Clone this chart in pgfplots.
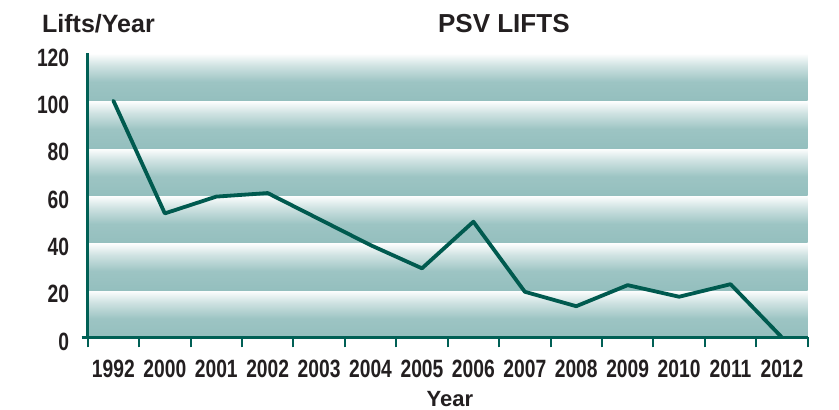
\documentclass[border=0pt]{standalone}
\usepackage{fontspec}
\setmainfont{Liberation Sans}
\newfontfamily\condfont{Liberation Sans}[FakeStretch=0.77]
\usepackage{pgfplots}
\pgfplotsset{compat=1.18}
\definecolor{linec}{HTML}{005A4F}
\definecolor{axc}{HTML}{006055}
\definecolor{bandc}{HTML}{94BFBE}
\definecolor{txt}{HTML}{231F20}
\pgfdeclareverticalshading{band}{100bp}{color(0bp)=(bandc); color(25bp)=(bandc); color(45bp)=(bandc!92!white); color(62bp)=(bandc!45!white); color(75bp)=(white); color(100bp)=(white)}
\pgfplotstableread{
x y
0 100
1 52.4
2 59.5
3 61
4 50
5 39
6 29.2
7 48.9
8 19.3
9 13.2
10 22.1
11 17.2
12 22.5
13 0
}\lifts
\begin{document}
\begin{tikzpicture}
\begin{axis}[
  scale only axis, width=719.6pt, height=283.9pt,
  xmin=-0.5, xmax=13.5, ymin=0, ymax=120,
  axis x line*=bottom, axis y line*=left,
  axis on top,
  /pgf/number format/assume math mode=true,
  x axis line style={-, axc, line width=2.6pt, shorten <=-6pt},
  y axis line style={-, axc, line width=2.6pt},
  xtick={0,...,13},
  xticklabels={1992,2000,2001,2002,2003,2004,2005,2006,2007,2008,2009,2010,2011,2012},
  ytick={0,20,...,120},
  major tick length=0pt,
  tick style={axc, line width=2pt},
  extra x ticks={-0.5,0.5,...,13.5},
  extra x tick labels={},
  extra x tick style={major tick length=10pt, tick align=outside},
  tick label style={font=\condfont\bfseries\fontsize{25}{28}\selectfont, text=txt},
  xticklabel style={yshift=-19pt},
  yticklabel style={xshift=-15pt, yshift=-4pt},
  clip=false,
]
\shade[shading=band] (axis cs:-0.5,0) rectangle (axis cs:13.5,20);
\shade[shading=band] (axis cs:-0.5,20) rectangle (axis cs:13.5,40);
\shade[shading=band] (axis cs:-0.5,40) rectangle (axis cs:13.5,60);
\shade[shading=band] (axis cs:-0.5,60) rectangle (axis cs:13.5,80);
\shade[shading=band] (axis cs:-0.5,80) rectangle (axis cs:13.5,100);
\shade[shading=band] (axis cs:-0.5,100) rectangle (axis cs:13.5,120);
\addplot[linec, line width=3.8pt, line join=round, line cap=round, mark=none] table[x=x,y=y] {\lifts};
\node[anchor=base, font=\bfseries\fontsize{26}{30}\selectfont, text=txt] at (rel axis cs:0.578,1.0743) {PSV LIFTS};
\node[anchor=base west, font=\bfseries\fontsize{25}{30}\selectfont, text=txt, inner sep=0pt] at (rel axis cs:-0.0635,1.0743) {Lifts/Year};
\node[anchor=base, font=\bfseries\fontsize{22}{26}\selectfont, text=txt] at (rel axis cs:0.503,-0.242) {Year};
\path (rel axis cs:-0.1218,-0.249) rectangle (rel axis cs:1.0435,1.188);
\end{axis}
\end{tikzpicture}
\end{document}
